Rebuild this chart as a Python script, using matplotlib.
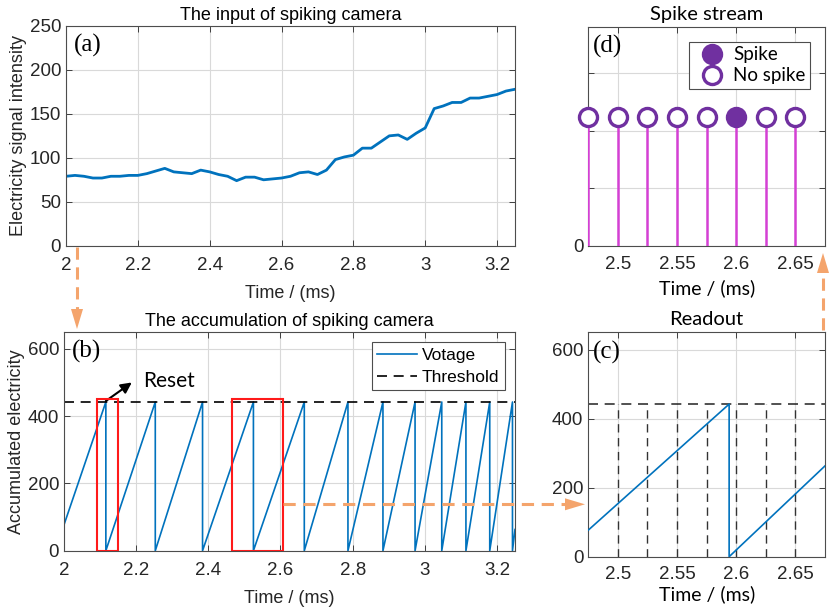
import numpy as np
import matplotlib.pyplot as plt
from matplotlib.lines import Line2D
from matplotlib.patches import Polygon, Rectangle

# Panel (a): input intensity, sampled every 0.025 ms
input_t = np.arange(51) * 0.025 + 2.0
input_v = [79, 80, 79, 77, 77, 79, 79, 80, 80, 82, 85, 88, 84, 83, 82, 86, 84,
           81, 79, 74, 78, 78, 75, 76, 77, 79, 83, 84, 81, 86, 98, 101, 103,
           111, 111, 118, 125, 126, 121, 128, 134, 156, 159, 163, 163, 168,
           168, 170, 172, 176, 178]

# Panel (b): accumulation, reset times
reset_t = [2.116, 2.253, 2.384, 2.525, 2.666, 2.787, 2.884, 2.973, 3.047,
           3.114, 3.180, 3.243]
acc_start = 77
acc_end = 63
threshold = 442
boxes = [(2.0915, 2.1507), (2.465, 2.606)]

# Panel (c): readout window
read_t = [2.475, 2.594, 2.594, 2.675]
read_v = [77, threshold, 0, 263]

# Panel (d): spike stream
sample_t = [2.475, 2.5, 2.525, 2.55, 2.575, 2.6, 2.625, 2.65]
spike_flag = [0, 0, 0, 0, 0, 1, 0, 0]

W, H = 831, 612
blue = '#0072BD'
purple = '#7030A0'
magenta = '#D440D4'
orange = '#F4A46C'
dark = '#262626'
sans = 'Liberation Sans'
cal = 'Lato'
serif = 'Liberation Serif'

fig = plt.figure(figsize=(W / 100, H / 100), dpi=100)


def box(l, t, r, b):
    return [l / W, 1 - b / H, (r - l) / W, (b - t) / H]


def style(ax, xpad=8):
    ax.tick_params(direction='in', length=4, width=0.6, colors=dark,
                   top=True, right=True, labelsize=13.5)
    ax.tick_params(axis='x', pad=xpad)
    for lab in ax.get_xticklabels() + ax.get_yticklabels():
        lab.set_family(sans)
    for s in ax.spines.values():
        s.set_color('#4d4d4d')
        s.set_linewidth(0.8)
    ax.grid(True, color='#d9d9d9', linewidth=0.8)
    ax.set_axisbelow(True)


def panel_label(ax, txt):
    ax.text(0.018, 0.91, txt, transform=ax.transAxes, family=serif,
            fontsize=18, va='center', ha='left', color='black')


# (a)
ax_a = fig.add_axes(box(66, 26, 515, 245.7))
ax_a.plot(input_t, input_v, color=blue, lw=2)
ax_a.set_xlim(2, 3.25)
ax_a.set_ylim(0, 250)
ax_a.set_xticks([2, 2.2, 2.4, 2.6, 2.8, 3, 3.2])
ax_a.set_xticklabels(['2', '2.2', '2.4', '2.6', '2.8', '3', '3.2'])
ax_a.set_yticks([0, 50, 100, 150, 200, 250])
style(ax_a)
ax_a.set_title('The input of spiking camera', family=sans, fontsize=13,
               color='black', pad=4)
ax_a.set_xlabel('Time / (ms)', family=sans, fontsize=13, color=dark, labelpad=8)
ax_a.set_ylabel('Electricity signal intensity', family=sans, fontsize=13,
                color=dark, labelpad=2)
panel_label(ax_a, '(a)')

# (b)
ax_b = fig.add_axes(box(64, 332, 515, 550.7))
bx = [2.0]
by = [acc_start]
for t in reset_t:
    bx += [t, t]
    by += [threshold, 0]
bx.append(3.25)
by.append(acc_end)
ax_b.plot(bx, by, color=blue, lw=1.2, label='Votage')
ax_b.axhline(threshold, color='black', ls=(0, (6, 4)), lw=1.2, label='Threshold')
for x0, x1 in boxes:
    ax_b.add_patch(Rectangle((x0, 0), x1 - x0, 451, fill=False,
                             edgecolor='#FF1A1A', lw=1.5, zorder=5))
ax_b.set_xlim(2, 3.25)
ax_b.set_ylim(0, 650)
ax_b.set_xticks([2, 2.2, 2.4, 2.6, 2.8, 3, 3.2])
ax_b.set_xticklabels(['2', '2.2', '2.4', '2.6', '2.8', '3', '3.2'])
ax_b.set_yticks([0, 200, 400, 600])
style(ax_b)
ax_b.set_title('The accumulation of spiking camera', family=sans,
               fontsize=13, color='black', pad=4)
ax_b.set_xlabel('Time / (ms)', family=sans, fontsize=13, color=dark, labelpad=8)
ax_b.set_ylabel('Accumulated electricity', family=sans, fontsize=13,
                color=dark, labelpad=2)
leg = ax_b.legend(loc='upper right', prop={'family': sans, 'size': 12.5},
                  fancybox=False, edgecolor='#4d4d4d', framealpha=1,
                  handlelength=2.3, handletextpad=0.3, borderpad=0.3,
                  labelspacing=0.4, borderaxespad=0.6)
leg.get_frame().set_linewidth(0.8)
ax_b.annotate('', xy=(2.188, 500), xytext=(2.116, 445),
              arrowprops=dict(arrowstyle='-|>', color='black', lw=1.5,
                              mutation_scale=16, shrinkA=0, shrinkB=0))
ax_b.text(2.218, 505, 'Reset', family=cal, fontsize=15, va='center',
          ha='left', color='black')
panel_label(ax_b, '(b)')

# (d)
ax_d = fig.add_axes(box(588.3, 26.7, 825, 246))
heights = [1.12] * len(sample_t)
ax_d.vlines(sample_t, 0, heights, color=magenta, lw=1.8, zorder=3)
for t, h, f in zip(sample_t, heights, spike_flag):
    ax_d.plot([t], [h], 'o', ms=13, mew=2.4, mec=purple,
              mfc=purple if f else 'white', zorder=4, clip_on=False)
ax_d.set_xlim(2.475, 2.675)
ax_d.set_ylim(0, 1.9)
ax_d.set_xticks([2.5, 2.55, 2.6, 2.65])
ax_d.set_xticklabels(['2.5', '2.55', '2.6', '2.65'])
ax_d.set_yticks([0, 0.5, 1, 1.5])
ax_d.set_yticklabels(['0', '', '', ''])
style(ax_d, xpad=7.5)
ax_d.set_title('Spike stream', family=cal, fontsize=14.5, color='black', pad=5)
ax_d.set_xlabel('Time / (ms)', family=cal, fontsize=14, color='black',
                labelpad=4)
handles = [Line2D([], [], ls='none', marker='o', ms=13, mew=2.4, mec=purple,
                  mfc=purple),
           Line2D([], [], ls='none', marker='o', ms=13, mew=2.4, mec=purple,
                  mfc='white')]
leg_d = ax_d.legend(handles, ['Spike', 'No spike'], loc='upper right',
                    prop={'family': cal, 'size': 13.5}, fancybox=False,
                    edgecolor='#4d4d4d', framealpha=1, handletextpad=0.1,
                    borderpad=0.25, labelspacing=0.2, borderaxespad=0.8)
leg_d.get_frame().set_linewidth(0.8)
panel_label(ax_d, '(d)')

# (c)
ax_c = fig.add_axes(box(588.3, 332.3, 825, 556.7))
ax_c.vlines(sample_t[1:], 0, threshold, color='#333333', ls=(0, (6, 4)),
            lw=1.0, zorder=2)
ax_c.axhline(threshold, color='#333333', ls=(0, (6, 4)), lw=1.2, zorder=2)
ax_c.plot(read_t, read_v, color=blue, lw=1.2, zorder=3)
ax_c.set_xlim(2.475, 2.675)
ax_c.set_ylim(0, 650)
ax_c.set_xticks([2.5, 2.55, 2.6, 2.65])
ax_c.set_xticklabels(['2.5', '2.55', '2.6', '2.65'])
ax_c.set_yticks([0, 200, 400, 600])
style(ax_c, xpad=6.5)
ax_c.set_title('Readout', family=cal, fontsize=14.5, color='black', pad=5)
ax_c.set_xlabel('Time / (ms)', family=cal, fontsize=14, color='black',
                labelpad=2)
panel_label(ax_c, '(c)')


# orange connector arrows, in figure pixels
def orange_arrow(x0, y0, x1, y1, head=20, half=6):
    d = np.array([x1 - x0, y1 - y0], float)
    n = np.hypot(*d)
    u = d / n
    p = np.array([-u[1], u[0]])
    base = np.array([x1, y1]) - u * head
    fig.add_artist(Line2D([x0 / W, base[0] / W], [1 - y0 / H, 1 - base[1] / H],
                          color=orange, lw=2.2, ls=(0, (4, 2.5))))
    tri = [base + p * half, base - p * half, np.array([x1, y1])]
    fig.add_artist(Polygon([(q[0] / W, 1 - q[1] / H) for q in tri],
                           closed=True, color=orange, lw=0))


orange_arrow(77, 247, 77, 329)
orange_arrow(283, 504.3, 585, 504.3)
orange_arrow(823, 330, 823, 253)

fig.savefig('out.png', dpi=100)
